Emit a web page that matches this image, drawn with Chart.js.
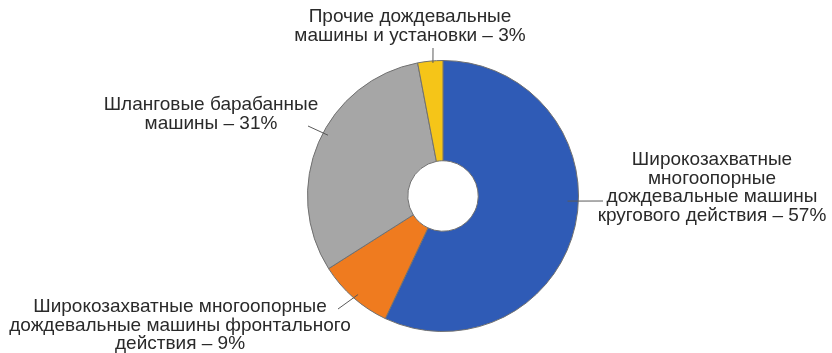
<!DOCTYPE html>
<html>
<head>
<meta charset="utf-8">
<script src="https://cdn.jsdelivr.net/npm/chart.js@4"></script>
<style>
  html, body { margin: 0; padding: 0; background: #ffffff; }
  #wrap { width: 832px; height: 353px; position: relative; }
</style>
</head>
<body>
<div id="wrap"><canvas id="chart" width="832" height="353"></canvas></div>
<script>
// Структура парка дождевальной техники, %
const categories = [
  'Широкозахватные многоопорные дождевальные машины кругового действия',
  'Широкозахватные многоопорные дождевальные машины фронтального действия',
  'Шланговые барабанные машины',
  'Прочие дождевальные машины и установки'
];
const shares = [57, 9, 31, 3];
const sliceColors = ['#2f5bb6', '#ef7b1f', '#a6a6a6', '#f5c518'];

// Подписи секторов (строки выводятся по центру)
const labelLines = [
  ['Широкозахватные', 'многоопорные', 'дождевальные машины', 'кругового действия – 57%'],
  ['Широкозахватные многоопорные', 'дождевальные машины фронтального', 'действия – 9%'],
  ['Шланговые барабанные', 'машины – 31%'],
  ['Прочие дождевальные', 'машины и установки – 3%']
];

// Размещение подписей и выносок
const FONT_PX = 19;
const LINE_H = 18.5;
const labelLayout = [
  { x: 712, y: 160, lead: { x: 603, y: 201 }, t: 0.45, r: 0.92 },
  { x: 180, y: 307, lead: { x: 338, y: 309 }, t: 0.48, r: 0.96 },
  { x: 211, y: 105, lead: { x: 308, y: 126 }, t: 0.54, r: 0.96 },
  { x: 410, y: 17,  lead: { x: 433, y: 48 },  t: 0.60, r: 0.985 }
];

const calloutPlugin = {
  id: 'callouts',
  afterDatasetsDraw(chart) {
    const ctx = chart.ctx;
    const arcs = chart.getDatasetMeta(0).data;
    ctx.save();
    arcs.forEach((arc, i) => {
      const L = labelLayout[i];
      const p = arc.getProps(['x', 'y', 'startAngle', 'endAngle', 'outerRadius'], true);
      const a = p.startAngle + (p.endAngle - p.startAngle) * L.t;
      const ax = p.x + Math.cos(a) * p.outerRadius * L.r;
      const ay = p.y + Math.sin(a) * p.outerRadius * L.r;
      ctx.beginPath();
      ctx.moveTo(L.lead.x, L.lead.y);
      ctx.lineTo(ax, ay);
      ctx.strokeStyle = '#5a5a5a';
      ctx.lineWidth = 1;
      ctx.stroke();
    });
    ctx.fillStyle = '#2a2a2a';
    ctx.font = FONT_PX + 'px "Liberation Sans", Arial, sans-serif';
    ctx.textAlign = 'center';
    ctx.textBaseline = 'middle';
    labelLines.forEach((lines, i) => {
      const L = labelLayout[i];
      lines.forEach((s, k) => ctx.fillText(s, L.x, L.y + k * LINE_H));
    });
    ctx.restore();
  }
};

new Chart(document.getElementById('chart'), {
  type: 'doughnut',
  data: {
    labels: categories,
    datasets: [{
      data: shares,
      backgroundColor: sliceColors,
      borderColor: '#707070',
      borderWidth: 1
    }]
  },
  options: {
    responsive: false,
    animation: false,
    cutout: '26%',
    rotation: 0,
    layout: { padding: { top: 60, bottom: 21, left: 307, right: 253 } },
    plugins: {
      legend: { display: false },
      tooltip: { enabled: false }
    }
  },
  plugins: [calloutPlugin]
});
</script>
</body>
</html>
